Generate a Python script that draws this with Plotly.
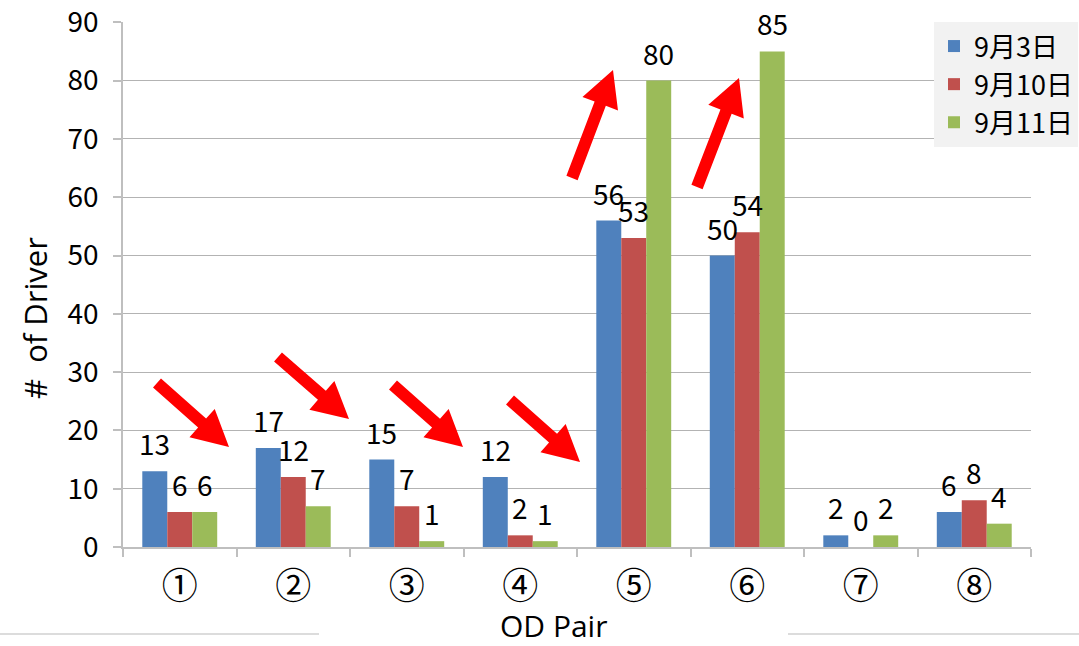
import plotly.graph_objects as go
import math

# ---- data ----
categories = ["①", "②", "③", "④", "⑤", "⑥", "⑦", "⑧"]
series_names = ["9月3日", "9月10日", "9月11日"]
sep03 = [13, 17, 15, 12, 56, 50, 2, 6]
sep10 = [6, 12, 7, 2, 53, 54, 0, 8]
sep11 = [6, 7, 1, 1, 80, 85, 2, 4]
y_ticks = [0, 10, 20, 30, 40, 50, 60, 70, 80, 90]

colors = ["#4F81BD", "#C0504D", "#9BBB59"]
series_values = [sep03, sep10, sep11]

# ---- layout geometry (pixels) ----
W, H = 1079, 646
L, R, T, B = 123, 48, 22, 99
PW = W - L - R
PH = H - T - B

def px2paper(x, y):
    return (x - L) / PW, (H - B - y) / PH

NUMFONT = "Noto Sans CJK JP"
TITLEFONT = "Open Sans"

fig = go.Figure()
for name, vals, col in zip(series_names, series_values, colors):
    fig.add_trace(go.Bar(
        x=categories, y=vals, name=name,
        marker=dict(color=col, line=dict(width=0)),
    ))

# data labels through the axes
offsets = [-25, 0, 25]
annotations = []
for vals, off in zip(series_values, offsets):
    for c, v in zip(categories, vals):
        annotations.append(dict(
            x=c, y=v, xref="x", yref="y", text=str(v), showarrow=False,
            xshift=off, yshift=6, yanchor="bottom", xanchor="center",
            font=dict(family=NUMFONT, size=28, color="black"),
        ))

# axis titles
ax, ay = px2paper(553, 625)
annotations.append(dict(x=ax, y=ay, xref="paper", yref="paper", text="OD Pair",
                        showarrow=False, xanchor="center", yanchor="middle",
                        font=dict(family=TITLEFONT, size=30, color="black")))
ax, ay = px2paper(35, 318)
annotations.append(dict(x=ax, y=ay, xref="paper", yref="paper", text="#  of Driver",
                        showarrow=False, xanchor="center", yanchor="middle", textangle=-90,
                        font=dict(family=TITLEFONT, size=31, color="black")))

# decorative red block arrows (tail, tip) in pixels
arrows = [
    ((157, 383), (229, 447)),
    ((278, 357), (349, 419)),
    ((393, 385), (463, 447)),
    ((510, 400), (580, 462)),
    ((572, 178), (613, 70)),
    ((697, 187), (739, 78)),
]
shapes = []
hw, HW, HL = 6, 19, 36
for (tx, ty), (px, py) in arrows:
    dx, dy = px - tx, py - ty
    d = math.hypot(dx, dy)
    ux, uy = dx / d, dy / d
    nx, ny = -uy, ux
    hx, hy = px - ux * HL, py - uy * HL
    pts = [
        (tx + nx * hw, ty + ny * hw),
        (hx + nx * hw, hy + ny * hw),
        (hx + nx * HW, hy + ny * HW),
        (px, py),
        (hx - nx * HW, hy - ny * HW),
        (hx - nx * hw, hy - ny * hw),
        (tx - nx * hw, ty - ny * hw),
    ]
    pp = [px2paper(a, b) for a, b in pts]
    path = "M " + " L ".join(f"{a:.5f},{b:.5f}" for a, b in pp) + " Z"
    shapes.append(dict(type="path", path=path, xref="paper", yref="paper",
                       fillcolor="#FF0000", line=dict(width=0), layer="above"))

# faint frame lines at the bottom
for x0, x1 in [(0, 319), (788, 1079)]:
    a0, b0 = px2paper(x0, 634)
    a1, b1 = px2paper(x1, 634)
    shapes.append(dict(type="line", xref="paper", yref="paper", x0=a0, y0=b0, x1=a1, y1=b1,
                       line=dict(color="#D0D0D0", width=1.5)))

lx, ly = px2paper(934, 22)
fig.update_layout(
    width=W, height=H, autosize=False,
    margin=dict(l=L, r=R, t=T, b=B, autoexpand=False),
    paper_bgcolor="white", plot_bgcolor="white",
    barmode="group", bargap=0.34, bargroupgap=0,
    showlegend=True,
    legend=dict(x=lx, y=ly, xanchor="left", yanchor="top",
                bgcolor="#F2F2F2", borderwidth=0,
                font=dict(family=NUMFONT, size=27, color="black"),
                itemwidth=30, tracegroupgap=0),
    annotations=annotations,
    shapes=shapes,
    xaxis=dict(
        type="category", showline=True, linecolor="#BFBFBF", linewidth=1.5,
        ticks="outside", tickson="boundaries", ticklen=8, tickcolor="#BFBFBF", tickwidth=1.5,
        showgrid=False, ticklabelstandoff=7,
        tickfont=dict(family=NUMFONT, size=36, color="black"),
    ),
    yaxis=dict(
        range=[0, 90.05], tickvals=y_ticks, showline=True, linecolor="#BFBFBF", linewidth=1.5,
        ticks="outside", ticklen=8, tickcolor="#BFBFBF", tickwidth=1.5,
        showgrid=True, gridcolor="#B3B3B3", gridwidth=1.2, zeroline=False,
        ticklabelstandoff=9, ticklabeloverflow="allow",
        tickfont=dict(family=NUMFONT, size=28, color="black"),
    ),
)
fig.update_traces(cliponaxis=False)

fig.write_html("out.html", config={"displayModeBar": False},
               post_script="document.body.style.margin='0px';document.body.style.overflow='hidden';")
